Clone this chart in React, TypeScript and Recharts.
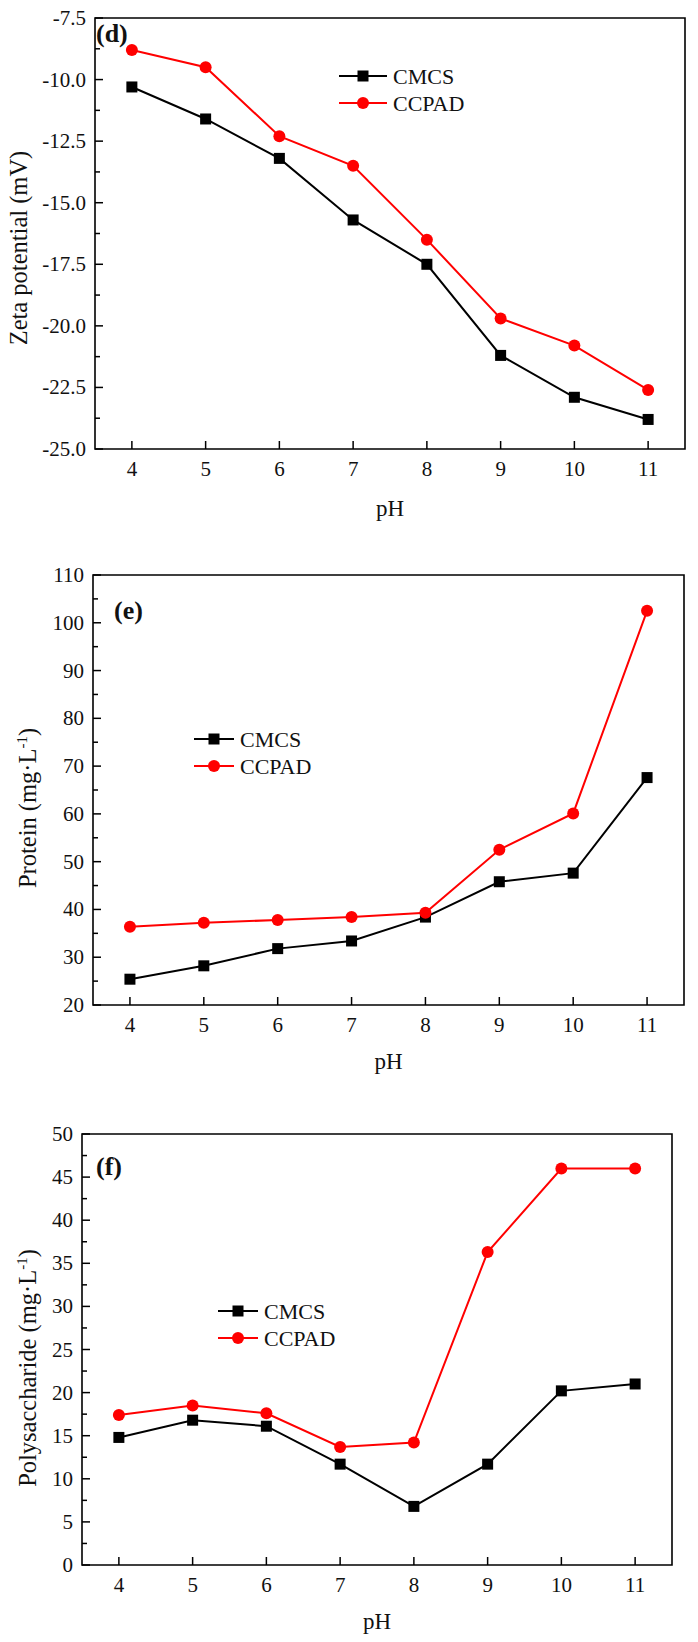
import React from "react";
import { LineChart, Line, XAxis, YAxis, ReferenceArea, Legend } from "recharts";

const FONT = "'Liberation Serif', 'Times New Roman', serif";

const phValues = [4, 5, 6, 7, 8, 9, 10, 11];
const seriesNames = ["CMCS", "CCPAD"];
const seriesColors = ["#000000", "#ff0000"];

const zetaCMCS = [-10.3, -11.6, -13.2, -15.7, -17.5, -21.2, -22.9, -23.8];
const zetaCCPAD = [-8.8, -9.5, -12.3, -13.5, -16.5, -19.7, -20.8, -22.6];
const zetaTicks = [-25, -22.5, -20, -17.5, -15, -12.5, -10, -7.5];

const proteinCMCS = [25.4, 28.2, 31.8, 33.4, 38.4, 45.8, 47.6, 67.6];
const proteinCCPAD = [36.4, 37.2, 37.8, 38.4, 39.3, 52.5, 60.1, 102.5];
const proteinTicks = [20, 30, 40, 50, 60, 70, 80, 90, 100, 110];

const polyCMCS = [14.8, 16.8, 16.1, 11.7, 6.8, 11.7, 20.2, 21.0];
const polyCCPAD = [17.4, 18.5, 17.6, 13.7, 14.2, 36.3, 46.0, 46.0];
const polyTicks = [0, 5, 10, 15, 20, 25, 30, 35, 40, 45, 50];

// major ticks plus a minor tick halfway between each pair
function withMinor(major: number[]) {
  const out: number[] = [];
  major.forEach((v, i) => {
    out.push(v);
    if (i < major.length - 1) out.push((v + major[i + 1]) / 2);
  });
  return out;
}

function makeYTick(major: number[], decimals: number) {
  return (props: any) => {
    const { x, y, payload } = props;
    const isMajor = major.includes(payload.value);
    return (
      <g>
        <line x1={x} y1={y} x2={x + (isMajor ? 8 : 5)} y2={y} stroke="#000" strokeWidth={1.5} />
        {isMajor && (
          <text x={x - 9} y={y + 7} textAnchor="end" fontFamily={FONT} fontSize={21} fill="#111">
            {payload.value.toFixed(decimals)}
          </text>
        )}
      </g>
    );
  };
}

const XTick = (props: any) => {
  const { x, y, payload } = props;
  return (
    <g>
      <line x1={x} y1={y} x2={x} y2={y - 8} stroke="#000" strokeWidth={1.5} />
      <text x={x} y={y + 27} textAnchor="middle" fontFamily={FONT} fontSize={21} fill="#111">
        {payload.value}
      </text>
    </g>
  );
};

const SquareDot = (props: any) => {
  const { cx, cy } = props;
  return <rect x={cx - 5.5} y={cy - 5.5} width={11} height={11} fill="#000" />;
};

function LegendBox({ lineLen }: { lineLen: number }) {
  return (
    <svg width={220} height={60}>
      {seriesNames.map((name, i) => {
        const y = 12 + i * 27;
        return (
          <g key={name}>
            <line x1={0} y1={y} x2={lineLen} y2={y} stroke={seriesColors[i]} strokeWidth={2} />
            {i === 0 ? (
              <rect x={lineLen / 2 - 5.5} y={y - 5.5} width={11} height={11} fill="#000" />
            ) : (
              <circle cx={lineLen / 2} cy={y} r={6} fill="#ff0000" />
            )}
            <text x={lineLen + 6} y={y + 7.5} fontFamily={FONT} fontSize={22} fill="#111">
              {name}
            </text>
          </g>
        );
      })}
    </svg>
  );
}

type PanelProps = {
  top: number;
  height: number;
  marginTop: number;
  marginRight: number;
  yWidth: number;
  xHeight: number;
  cmcs: number[];
  ccpad: number[];
  ticks: number[];
  decimals: number;
  yLabel: React.ReactNode;
  yLabelX: number;
  yLabelY: number;
  pHOffset: number;
  legendX: number;
  legendY: number;
  lineLen: number;
  tag: string;
  tagX: number;
  tagY: number;
};

function Panel(p: PanelProps) {
  const data = phValues.map((ph, i) => ({ ph, cmcs: p.cmcs[i], ccpad: p.ccpad[i] }));
  const yMin = p.ticks[0];
  const yMax = p.ticks[p.ticks.length - 1];
  return (
    <div style={{ position: "absolute", left: 0, top: p.top, width: 698, height: p.height }}>
      <LineChart
        width={698}
        height={p.height}
        data={data}
        margin={{ top: p.marginTop, right: p.marginRight, bottom: 0, left: 0 }}
      >
        <XAxis
          dataKey="ph"
          type="number"
          domain={[3.5, 11.5]}
          ticks={phValues}
          interval={0}
          height={p.xHeight}
          axisLine={false}
          tickLine={false}
          tickSize={0}
          tickMargin={0}
          tick={XTick}
          label={(lp: any) => {
            const vb = lp.viewBox;
            return (
              <text x={vb.x + vb.width / 2} y={vb.y + p.pHOffset} textAnchor="middle" fontFamily={FONT} fontSize={23} fill="#111">
                pH
              </text>
            );
          }}
        />
        <YAxis
          type="number"
          domain={[yMin, yMax]}
          ticks={withMinor(p.ticks)}
          interval={0}
          width={p.yWidth}
          axisLine={false}
          tickLine={false}
          tickSize={0}
          tickMargin={0}
          tick={makeYTick(p.ticks, p.decimals)}
          label={() => (
            <text
              transform={`translate(${p.yLabelX},${p.yLabelY}) rotate(-90)`}
              textAnchor="middle"
              fontFamily={FONT}
              fontSize={24.5}
              fill="#111"
            >
              {p.yLabel}
            </text>
          )}
        />
        <ReferenceArea x1={3.5} x2={11.5} y1={yMin} y2={yMax} fill="none" stroke="#000" strokeWidth={1.6} />
        <Line
          dataKey="cmcs"
          name={seriesNames[0]}
          stroke={seriesColors[0]}
          strokeWidth={2}
          dot={SquareDot}
          isAnimationActive={false}
        />
        <Line
          dataKey="ccpad"
          name={seriesNames[1]}
          stroke={seriesColors[1]}
          strokeWidth={2}
          dot={{ r: 6, fill: "#ff0000", stroke: "#ff0000", strokeWidth: 0 }}
          isAnimationActive={false}
        />
        <Legend
          layout="horizontal"
          verticalAlign="middle"
          align="center"
          wrapperStyle={{ position: "absolute", left: p.legendX, top: p.legendY, width: 220, height: 60 }}
          content={() => <LegendBox lineLen={p.lineLen} />}
        />
      </LineChart>
      <svg width={698} height={p.height} style={{ position: "absolute", left: 0, top: 0, pointerEvents: "none" }}>
        <text x={p.tagX} y={p.tagY} fontFamily={FONT} fontWeight="bold" fontSize={26} fill="#111">
          {p.tag}
        </text>
      </svg>
    </div>
  );
}

const mgL = (name: string) => (
  <>
    <tspan>{name} (mg·L</tspan>
    <tspan dy={-9} fontSize={15}>-1</tspan>
    <tspan dy={9}>)</tspan>
  </>
);

export default function App() {
  return (
    <div style={{ position: "absolute", left: 0, top: 0, width: 698, height: 1642, background: "#fff" }}>
      <Panel
        top={0}
        height={540}
        marginTop={18}
        marginRight={13}
        yWidth={95}
        xHeight={91}
        cmcs={zetaCMCS}
        ccpad={zetaCCPAD}
        ticks={zetaTicks}
        decimals={1}
        yLabel="Zeta potential (mV)"
        yLabelX={27}
        yLabelY={248}
        pHOffset={67}
        legendX={339}
        legendY={64}
        lineLen={48}
        tag="(d)"
        tagX={96}
        tagY={42}
      />
      <Panel
        top={540}
        height={540}
        marginTop={35}
        marginRight={14}
        yWidth={93}
        xHeight={75}
        cmcs={proteinCMCS}
        ccpad={proteinCCPAD}
        ticks={proteinTicks}
        decimals={0}
        yLabel={mgL("Protein")}
        yLabelX={36}
        yLabelY={268}
        pHOffset={64}
        legendX={194}
        legendY={187}
        lineLen={40}
        tag="(e)"
        tagX={114}
        tagY={79}
      />
      <Panel
        top={1080}
        height={562}
        marginTop={54}
        marginRight={26}
        yWidth={82}
        xHeight={77}
        cmcs={polyCMCS}
        ccpad={polyCCPAD}
        ticks={polyTicks}
        decimals={0}
        yLabel={mgL("Polysaccharide")}
        yLabelX={36}
        yLabelY={288}
        pHOffset={64}
        legendX={218}
        legendY={219}
        lineLen={40}
        tag="(f)"
        tagX={96}
        tagY={95}
      />
    </div>
  );
}
